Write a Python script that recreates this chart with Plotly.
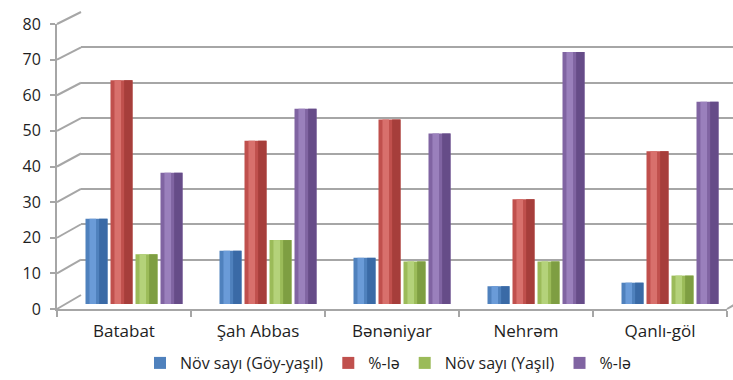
import plotly.graph_objects as go

categories = ["Batabat", "Şah Abbas", "Bənəniyar", "Nehrəm", "Qanlı-göl"]
series_names = ["Növ sayı (Göy-yaşıl)", "%-lə", "Növ sayı (Yaşıl)", "%-lə"]
nov_goy_yasil = [24, 15, 13, 5, 6]
faiz_goy_yasil = [63, 46, 52, 29.5, 43]
nov_yasil = [14, 18, 12, 12, 8]
faiz_yasil = [37, 55, 48, 71, 57]
y_ticks = [0, 10, 20, 30, 40, 50, 60, 70, 80]

series_values = [nov_goy_yasil, faiz_goy_yasil, nov_yasil, faiz_yasil]
# (dark edge, base, highlight)
palettes = [
    ("#3A6AA6", "#4F81BD", "#6A9BD8"),
    ("#A63E3B", "#C0504D", "#D8706C"),
    ("#7E9E42", "#9BBB59", "#B4D27A"),
    ("#664C88", "#8064A2", "#9A80BC"),
]

W, H = 733, 380
def px(x): return x / W
def py(y): return 1 - y / H

FONT = "Open Sans"
GRID = "#A6A6A6"
TXT = "#1E1E1E"

fig = go.Figure()

# ---- back wall (subplot 1): gridlines only
fig.add_trace(go.Scatter(x=[0], y=[0], mode="markers", marker=dict(opacity=0),
                         showlegend=False, hoverinfo="skip", xaxis="x", yaxis="y"))

# ---- bars (subplot 2)
cat_px = 134.0
x0_px = 134.0
left_px = 57.0
xr0 = (left_px - x0_px) / cat_px
xr1 = xr0 + (W - left_px) / cat_px
slot = 25.0 / cat_px
bw = 22.0 / cat_px
idx = list(range(len(categories)))
for i, (vals, name, pal) in enumerate(zip(series_values, series_names, palettes)):
    off = (i - 1.5) * slot - bw / 2
    dark, base, light = pal
    fig.add_trace(go.Bar(x=idx, y=vals, name=name, marker=dict(color=base, line=dict(width=0)),
                         offset=off, width=bw, xaxis="x2", yaxis="y2", legendrank=i + 1))
    fig.add_trace(go.Bar(x=idx, y=vals, marker=dict(color=dark, line=dict(width=0)),
                         offset=off + bw * 0.62, width=bw * 0.38, xaxis="x2", yaxis="y2",
                         showlegend=False, hoverinfo="skip"))
    fig.add_trace(go.Bar(x=idx, y=vals, marker=dict(color=light, line=dict(width=0)),
                         offset=off + bw * 0.18, width=bw * 0.3, xaxis="x2", yaxis="y2",
                         showlegend=False, hoverinfo="skip"))

# ---- front axes (subplot 3)
fig.add_trace(go.Scatter(x=categories, y=[None] * len(categories), mode="markers",
                         showlegend=False, hoverinfo="skip", xaxis="x3", yaxis="y3"))

front_y0, front_y80 = 309, 24
back_y0, back_y80 = 295, 12
bar_y0, bar_y80 = 304, 20
back_x = 81

def front_pix(v): return front_y0 + (front_y80 - front_y0) * v / 80
def back_pix(v): return back_y0 + (back_y80 - back_y0) * v / 80

shapes = []
for v in y_ticks:
    shapes.append(dict(type="line", xref="paper", yref="paper", layer="below",
                       x0=px(left_px), y0=py(front_pix(v)), x1=px(back_x), y1=py(back_pix(v)),
                       line=dict(color=GRID, width=2)))
# right floor edge diagonal
shapes.append(dict(type="line", xref="paper", yref="paper", layer="below",
                   x0=px(727), y0=py(front_pix(0)), x1=px(751), y1=py(back_pix(0)),
                   line=dict(color=GRID, width=2)))

fig.update_layout(
    width=W, height=H,
    margin=dict(l=0, r=0, t=0, b=0, pad=0, autoexpand=False),
    paper_bgcolor="white", plot_bgcolor="rgba(0,0,0,0)",
    barmode="overlay",
    showlegend=True,
    shapes=shapes,
    font=dict(family=FONT, color=TXT),
    legend=dict(orientation="h", x=px(388), xanchor="center", y=0.0, yanchor="bottom",
                font=dict(size=16, family=FONT, color=TXT), bgcolor="rgba(0,0,0,0)",
                itemwidth=30, tracegroupgap=0, borderwidth=0),
    xaxis=dict(domain=[px(back_x), 1], range=[0, 1], visible=False, fixedrange=True, automargin=False),
    yaxis=dict(domain=[py(back_y0), py(back_y80)], range=[0, 80], dtick=10,
               showgrid=True, gridcolor=GRID, gridwidth=2, zeroline=False,
               showticklabels=False, ticks="", showline=False, automargin=False),
    xaxis2=dict(domain=[px(left_px), 1], range=[xr0, xr1], visible=False, anchor="y2", automargin=False),
    yaxis2=dict(domain=[py(bar_y0), py(bar_y80)], range=[0, 80], visible=False, anchor="x2", automargin=False),
    xaxis3=dict(domain=[px(left_px), px(727)], type="category", range=[-0.5, 4.5],
                anchor="y3", showline=True, linecolor=GRID, linewidth=2,
                ticks="outside", ticklen=6, tickcolor=GRID, tickwidth=2,
                tickson="boundaries", showgrid=False, zeroline=False, automargin=False,
                ticklabelstandoff=6,
                tickfont=dict(size=17, family=FONT, color=TXT)),
    yaxis3=dict(domain=[py(front_y0), py(front_y80)], range=[0, 80], anchor="x3",
                tickvals=y_ticks, showline=True, linecolor=GRID, linewidth=2,
                ticks="outside", ticklen=5, tickcolor=GRID, tickwidth=2,
                showgrid=False, zeroline=False, automargin=False,
                ticklabelstandoff=6,
                tickfont=dict(size=16, family=FONT, color=TXT)),
)

fig.write_html("out.html")
